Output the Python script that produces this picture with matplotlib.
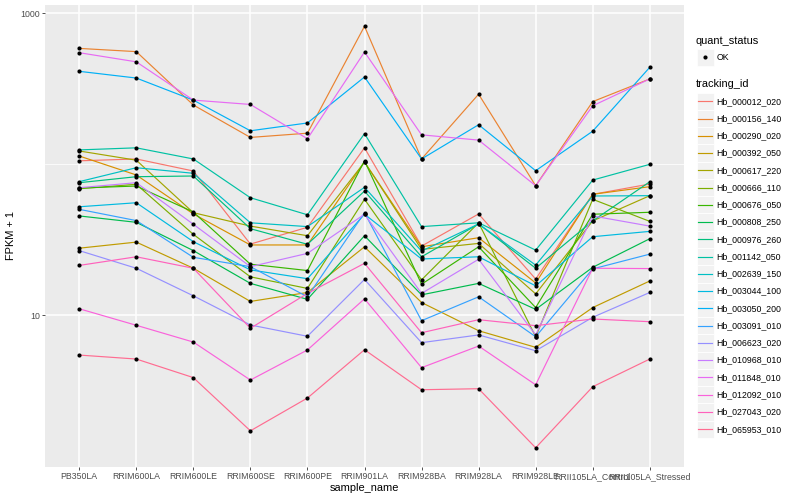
import numpy as np
import matplotlib.pyplot as plt
from matplotlib.patches import Rectangle
from matplotlib.ticker import NullFormatter

plt.rcParams['font.family'] = ['Liberation Sans', 'DejaVu Sans']

samples = ['PB350LA', 'RRIM600LA', 'RRIM600LE', 'RRIM600SE', 'RRIM600PE', 'RRIM901LA',
           'RRIM928BA', 'RRIM928LA', 'RRIM928LE', 'RRII105LA_Control', 'RRII105LA_Stressed']

tracking_ids = ['Hb_000012_020', 'Hb_000156_140', 'Hb_000290_020', 'Hb_000392_050',
                'Hb_000617_220', 'Hb_000666_110', 'Hb_000676_050', 'Hb_000808_250',
                'Hb_000976_260', 'Hb_001142_050', 'Hb_002639_150', 'Hb_003044_100',
                'Hb_003050_200', 'Hb_003091_010', 'Hb_006623_020', 'Hb_010968_010',
                'Hb_011848_010', 'Hb_012092_010', 'Hb_027043_020', 'Hb_065953_010']

# ggplot hue palette, 20 levels
colors = ['#F8766D', '#EA8331', '#D89000', '#C09B00', '#A3A500', '#7CAE00', '#39B600',
          '#00BB4E', '#00BF7D', '#00C1A3', '#00BFC4', '#00BAE0', '#00B0F6', '#35A2FF',
          '#9590FF', '#C77CFF', '#E76BF3', '#FA62DB', '#FF62BC', '#FF6C91']

# FPKM + 1, one value per sample
hb_000012_020 = [105, 108, 89.9, 29.5, 38.1, 128, 28.6, 46.7, 17.3, 63.0, 73.7]
hb_000156_140 = [583, 555, 246, 150, 160, 817, 108, 290, 71.8, 259, 366]
hb_000290_020 = [113, 84.6, 46.7, 29.1, 29.1, 103, 28.3, 32.5, 16.3, 63.0, 70.8]
hb_000392_050 = [27.7, 30.4, 20.4, 12.3, 14.1, 28.3, 12.1, 7.87, 6.11, 11.2, 16.8]
hb_000617_220 = [122, 106, 47.6, 38.8, 33.5, 103, 27.2, 29.8, 13.8, 42.0, 61.7]
hb_000666_110 = [68.6, 73.4, 34.2, 17.9, 15.0, 58.4, 17.1, 40.8, 7.18, 58.4, 41.7]
hb_000676_050 = [69.3, 71.5, 48.1, 21.7, 19.7, 105, 16.0, 28.3, 11.2, 46.5, 47.9]
hb_000808_250 = [45.3, 41.1, 26.7, 16.2, 12.7, 33.5, 13.6, 16.2, 10.9, 20.7, 32.0]
hb_000976_260 = [75.2, 82.4, 83.3, 37.3, 29.4, 66.2, 24.3, 40.1, 20.4, 42.0, 76.3]
hb_001142_050 = [124, 128, 108, 59.8, 46.1, 159, 38.5, 40.8, 26.9, 78.3, 99.5]
hb_002639_150 = [76.4, 94.5, 86.8, 40.8, 38.5, 70.1, 26.5, 40.1, 21.4, 61.4, 61.7]
hb_003044_100 = [52.1, 55.4, 30.6, 19.9, 17.4, 46.5, 23.5, 24.3, 15.6, 33.0, 35.8]
hb_003050_200 = [411, 371, 265, 166, 187, 377, 108, 182, 90.3, 165, 437]
hb_003091_010 = [50.1, 42.2, 24.1, 20.9, 13.2, 47.6, 9.17, 13.2, 7.18, 20.2, 25.3]
hb_006623_020 = [26.7, 20.4, 13.4, 8.59, 7.23, 17.2, 6.56, 7.38, 5.80, 9.66, 14.1]
hb_010968_010 = [69.7, 75.2, 39.9, 20.9, 25.6, 46.5, 13.9, 23.4, 7.38, 45.3, 38.8]
hb_011848_010 = [546, 475, 265, 248, 147, 552, 156, 144, 71.8, 243, 366]
hb_012092_010 = [11.0, 8.55, 6.62, 3.71, 5.87, 12.8, 4.48, 6.23, 3.45, 20.4, 20.3]
hb_027043_020 = [21.3, 24.3, 20.4, 8.17, 13.9, 22.0, 7.63, 9.31, 8.50, 9.41, 9.03]
hb_065953_010 = [5.43, 5.11, 3.85, 1.71, 2.82, 5.89, 3.20, 3.25, 1.32, 3.35, 5.11]

series = [hb_000012_020, hb_000156_140, hb_000290_020, hb_000392_050, hb_000617_220,
          hb_000666_110, hb_000676_050, hb_000808_250, hb_000976_260, hb_001142_050,
          hb_002639_150, hb_003044_100, hb_003050_200, hb_003091_010, hb_006623_020,
          hb_010968_010, hb_011848_010, hb_012092_010, hb_027043_020, hb_065953_010]

TICK_SIZE = 6.3
TITLE_SIZE = 7.9
DOT = 9

fig = plt.figure(figsize=(8, 5), dpi=100)
ax = fig.add_axes([45 / 800, 1 - 467 / 500, (684 - 45) / 800, (467 - 5) / 500])
ax.set_facecolor('#EBEBEB')

x = np.arange(len(samples))
for vals, c in zip(series, colors):
    ax.plot(x, vals, color=c, lw=0.85, zorder=2)
for vals in series:
    ax.scatter(x, vals, s=DOT, color='black', zorder=3, linewidths=0)

ax.set_yscale('log')
ax.set_ylim(0.985, 1130)
ax.set_xlim(-0.6, len(samples) - 0.4)
ax.set_yticks([10, 1000])
ax.set_yticklabels(['10', '1000'])
ax.set_yticks([100], minor=True)
ax.yaxis.set_minor_formatter(NullFormatter())
ax.set_xticks(x)
ax.set_xticklabels(samples)

ax.grid(which='major', color='white', lw=1.1, zorder=0)
ax.grid(which='minor', axis='y', color='white', lw=0.55, zorder=0)
ax.set_axisbelow(True)
for s in ax.spines.values():
    s.set_visible(False)
ax.tick_params(which='major', length=2, width=0.6, color='#333333', pad=1.6,
               labelsize=TICK_SIZE, labelcolor='#4D4D4D')
ax.tick_params(which='minor', length=0)

ax.set_xlabel('sample_name', fontsize=TITLE_SIZE, labelpad=1.5)
ax.set_ylabel('FPKM + 1', fontsize=TITLE_SIZE, labelpad=3)

# legends, drawn in pixel space
lg = fig.add_axes([0, 0, 1, 1])
lg.set_xlim(0, 800)
lg.set_ylim(500, 0)
lg.axis('off')
lg.patch.set_alpha(0)

lg.text(696, 40.5, 'quant_status', fontsize=TITLE_SIZE, va='center', ha='left')
lg.add_patch(Rectangle((696.5, 48.5), 17, 17, facecolor='#F2F2F2', edgecolor='white', lw=0.5))
lg.scatter([705], [57], s=DOT, color='black', linewidths=0)
lg.text(716.5, 57, 'OK', fontsize=TICK_SIZE, va='center', ha='left')

lg.text(696, 84, 'tracking_id', fontsize=TITLE_SIZE, va='center', ha='left')
step = 17.26
for i, (name, c) in enumerate(zip(tracking_ids, colors)):
    yc = 101.3 + i * step
    lg.add_patch(Rectangle((696.5, yc - step / 2), 17, step, facecolor='#F2F2F2',
                           edgecolor='white', lw=0.6))
    lg.plot([698, 712], [yc, yc], color=c, lw=0.85)
    lg.text(716.5, yc, name, fontsize=TICK_SIZE, va='center', ha='left')

fig.savefig('out.png', dpi=100)
